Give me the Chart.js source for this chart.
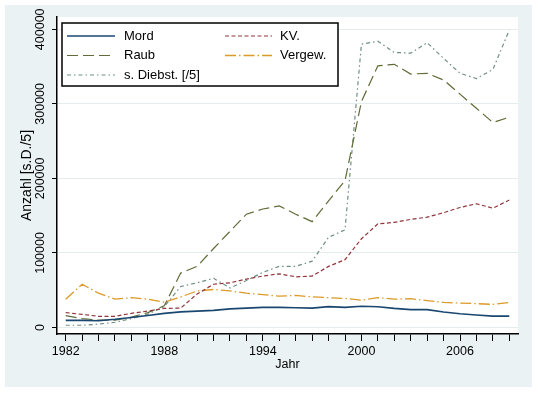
<!DOCTYPE html>
<html><head><meta charset="utf-8">
<script src="https://cdn.jsdelivr.net/npm/chart.js@4/dist/chart.umd.min.js"></script>
<style>html,body{margin:0;padding:0;background:#fff;overflow:hidden}</style>
</head><body>
<canvas id="c" width="538" height="394" style="display:block;width:538px;height:394px"></canvas>
<script>
// ---- data ----
const years = [1982,1983,1984,1985,1986,1987,1988,1989,1990,1991,1992,1993,1994,1995,1996,1997,1998,1999,2000,2001,2002,2003,2004,2005,2006,2007,2008,2009];
const mord   = [9600,9600,9000,11000,13500,16000,19000,21000,22000,23000,25000,26000,27000,27000,26500,26000,28000,27000,28500,27800,25600,24000,24000,20700,18400,16700,15300,15300];
const kv     = [20000,17600,15000,15000,19000,22000,25600,26000,45000,58000,60000,65000,69000,72000,68000,69000,82000,91000,119000,139000,141000,145000,148000,154000,161000,166000,160000,171000];
const raub   = [16000,12000,10000,10000,14000,20000,29000,73000,82000,106000,129000,152000,159000,163000,152000,142000,170000,197000,303000,351000,353000,340000,341000,332000,313000,294000,275000,282000];
const vergew = [38000,58000,46000,38000,40000,38000,34000,41000,49000,51000,49000,46000,44000,42000,43000,41000,40000,39000,36700,40000,38000,38600,36000,33600,32800,32000,31000,33600];
const diebst = [3000,3000,4500,7000,12000,18000,28000,55000,60000,66000,53000,63000,74000,82000,82000,89000,121000,131000,380000,384000,369000,368000,382000,361000,341000,334000,346000,399000];
const seriesNames = ["Mord","KV.","Raub","Vergew.","s. Diebst. [/5]"];
const yTicks = [0,100000,200000,300000,400000];
const xTickLabels = [1982,1988,1994,2000,2006];
const xTitle = "Jahr";
const yTitle = "Anzahl [s.D./5]";

const colors = ["#1a476f","#90353b","#5f6b38","#dc9a26","#6e8e84"];
const dashes = [[],[4,2.5],[11,5],[11,3,1.5,3],[4,3,1.5,3]];
const widths = [1.6,1.2,1.2,1.3,1.2];
const values = [mord,kv,raub,vergew,diebst];

const datasets = seriesNames.map((n,i)=>({
  label:n,
  data: years.map((y,j)=>({x:y,y:values[i][j]})),
  borderColor: colors[i], borderWidth: widths[i], borderDash: dashes[i],
  pointRadius:0, tension:0, fill:false
}));

const bgPlugin = {
  id:'bg',
  beforeDraw(chart){
    const ctx = chart.ctx, a = chart.chartArea;
    ctx.save();
    ctx.fillStyle = '#ffffff'; ctx.fillRect(0,0,chart.width,chart.height);
    ctx.fillStyle = '#eaf2f3'; ctx.fillRect(5,5,527,382);
    ctx.fillStyle = '#ffffff'; ctx.fillRect(a.left,a.top,a.right-a.left,a.bottom-a.top);
    ctx.restore();
  }
};

const legendPlugin = {
  id:'customLegend',
  afterDraw(chart){
    const ctx = chart.ctx;
    ctx.save();
    ctx.fillStyle = '#fff';
    ctx.fillRect(62,23,276,63);
    ctx.strokeStyle = '#000'; ctx.lineWidth = 1.5; ctx.setLineDash([]);
    ctx.strokeRect(62,23,276,63);
    const pos = [[0,0],[1,0],[0,1],[1,1],[0,2]];
    const colX = [[67,115,124],[225,272,280]];
    const rowY = [36,55.5,75];
    ctx.font = '13px Arial, "Liberation Sans", sans-serif';
    ctx.textBaseline = 'middle';
    chart.data.datasets.forEach((ds,i)=>{
      const [c,r] = pos[i];
      const y = rowY[r];
      ctx.beginPath();
      ctx.strokeStyle = ds.borderColor; ctx.lineWidth = ds.borderWidth;
      ctx.setLineDash(ds.borderDash);
      ctx.moveTo(colX[c][0],y); ctx.lineTo(colX[c][1],y); ctx.stroke();
      ctx.setLineDash([]);
      ctx.fillStyle = '#000';
      ctx.fillText(ds.label, colX[c][2], y);
    });
    ctx.restore();
  }
};

new Chart(document.getElementById('c'), {
  type:'line',
  data:{datasets},
  options:{
    responsive:false, animation:false, devicePixelRatio:1,
    layout:{padding:{left:0,top:17,right:20,bottom:0}},
    plugins:{legend:{display:false}, tooltip:{enabled:false}},
    scales:{
      x:{
        type:'linear', min:1981.47, max:2009.53,
        afterBuildTicks(s){ s.ticks = years.map(v=>({value:v})); },
        afterFit(s){ s.height = 60; },
        ticks:{ autoSkip:false, maxRotation:0, minRotation:0, padding:3, color:'#000',
          font:{family:'Arial, "Liberation Sans", sans-serif', size:12.5},
          callback:(v)=> xTickLabels.includes(v) ? String(v) : '' },
        grid:{ drawOnChartArea:false, drawTicks:true, tickLength:7, tickColor:'#000', tickWidth:1 },
        border:{ display:true, color:'#000', width:1.5 },
        title:{ display:true, text:xTitle, color:'#000', padding:{top:0,bottom:22},
          font:{family:'Arial, "Liberation Sans", sans-serif', size:12.5} }
      },
      y:{
        type:'linear', min:-8720, max:416500,
        afterBuildTicks(s){ s.ticks = yTicks.map(v=>({value:v})); },
        afterFit(s){ s.width = 57; },
        ticks:{ minRotation:90, maxRotation:90, crossAlign:'center', padding:-9, color:'#000',
          font:{family:'Arial, "Liberation Sans", sans-serif', size:12.5},
          callback:(v)=> String(v) },
        grid:{ drawOnChartArea:true, color:'#e4ecee', lineWidth:1, drawTicks:true, tickLength:5, tickColor:'#000', tickWidth:1 },
        border:{ display:true, color:'#000', width:1.5 },
        title:{ display:true, text:yTitle, color:'#000', padding:{top:19,bottom:0},
          font:{family:'Arial, "Liberation Sans", sans-serif', size:14} }
      }
    }
  },
  plugins:[bgPlugin, legendPlugin]
});
</script>
</body></html>
